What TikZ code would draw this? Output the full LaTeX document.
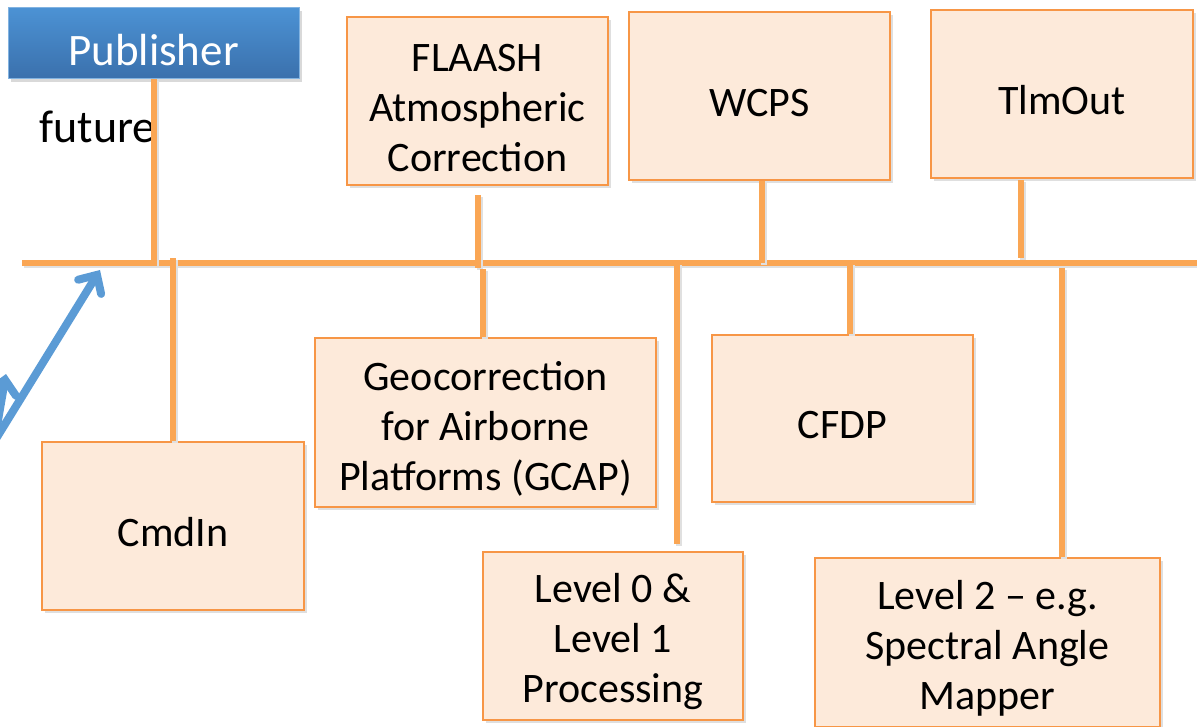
\documentclass[tikz,border=0pt]{standalone}
\usepackage{fontspec}
\setmainfont{Carlito}
\usetikzlibrary{shadows, arrows.meta}

\definecolor{boxfill}{RGB}{253,234,218}
\definecolor{boxline}{RGB}{247,150,70}
\definecolor{busline}{RGB}{250,166,84}
\definecolor{pubtop}{RGB}{76,146,212}
\definecolor{pubbot}{RGB}{58,112,172}
\definecolor{feedblue}{RGB}{91,155,213}

% first line a little taller, so the text sits lower in its box
\newcommand{\lift}{\rule{0pt}{41pt}}

\begin{document}
\begin{tikzpicture}[
        x=1pt, y=-1pt,
        %Styles
        Task/.style={
            draw=boxline, line width=2.5pt,
            fill=boxfill,
            inner sep=0pt,
            align=center,
            font=\fontsize{42}{50}\selectfont,
            drop shadow={opacity=0.25, shadow xshift=3pt, shadow yshift=-3pt},
        },
        Publisher/.style={
            draw=pubtop!70!white, line width=1pt,
            top color=pubtop, bottom color=pubbot,
            text=white, inner sep=0pt,
            font=\fontsize{45}{54}\selectfont,
            drop shadow={opacity=0.3, shadow xshift=3pt, shadow yshift=-3pt},
        },
        link/.style={
            draw=busline, line width=6pt,
            preaction={draw=black!12, line width=6pt,
                transform canvas={xshift=2pt, yshift=-2pt}},
        },
        feed/.style={
            draw=feedblue, line width=8pt, line cap=round,
            -{Straight Barb[length=14pt, width=27pt, line cap=round]},
        },
    ]

\clip (0,0) rectangle (1197,727);

%bus
\coordinate (busL) at (22,263);
\coordinate (busR) at (1200,263);
\coordinate (bus) at (0,263);

%top row
\node[Publisher, minimum width=291pt, minimum height=71pt] (pub) at (153.5,43.5) {\rule{0pt}{44pt}Publisher};
\node[anchor=base west, font=\fontsize{46}{54}\selectfont] (fut) at (36,143) {future};
\node[Task, minimum width=261pt, minimum height=168pt] (flaash) at (477.5,101)
    {\lift FLAASH\\Atmospheric\\Correction};
\node[Task, minimum width=261pt, minimum height=168pt] (wcps) at (759.5,96) {\lift WCPS};
\node[Task, minimum width=262pt, minimum height=168pt] (tlm) at (1062,94) {\lift TlmOut};

%bottom row
\node[Task, minimum width=262pt, minimum height=168pt] (cmdin) at (173,526) {\lift CmdIn};
\node[Task, minimum width=341pt, minimum height=169pt] (gcap) at (485.5,422.5)
    {\lift Geocorrection\\for Airborne\\Platforms (GCAP)};
\node[Task, minimum width=261pt, minimum height=167pt] (cfdp) at (842.5,418.5) {\lift CFDP};
\node[Task, minimum width=260pt, minimum height=168pt] (lvl0) at (613,636)
    {\lift Level 0 \&\\Level 1\\Processing};
\node[Task, minimum width=345pt, minimum height=169pt] (lvl2) at (987.5,642.5)
    {\lift Level 2 -- e.g.\\Spectral Angle\\Mapper};

%connectors
\draw[link] (busL) -- (busR);
\draw[link] (pub.south) -- ([yshift=-3pt]pub.south |- bus);
\draw[link] (cmdin.north) -- ([yshift=5pt]cmdin.north |- bus);
\draw[link] ([yshift=-9pt]flaash.south) -- ([yshift=-5pt]flaash.south |- bus);
\draw[link] ([xshift=-2.5pt]gcap.north) -- ([xshift=-2.5pt,yshift=-6pt]gcap.north |- bus);
\draw[link] ([xshift=64pt,yshift=7pt]lvl0.north) -- ([xshift=64pt]lvl0.north |- bus);
\draw[link] ([xshift=2.5pt]wcps.south) -- ([xshift=2.5pt]wcps.south |- bus);
\draw[link] ([xshift=7.5pt]cfdp.north) -- ([xshift=7.5pt]cfdp.north |- bus);
\draw[link] ([xshift=-41pt,yshift=-1pt]tlm.south) -- ([xshift=-41pt,yshift=5pt]tlm.south |- bus);
\draw[link] ([xshift=74.5pt]lvl2.north) -- ([xshift=74.5pt,yshift=-5pt]lvl2.north |- bus);

%incoming arrows
\coordinate (feedA) at (-6,442);
\coordinate (tipA) at (100,270);
\coordinate (feedB) at (-14,490);
\coordinate (tipB) at (6,374);
\draw[feed] (feedA) -- (tipA);
\draw[feed] (feedB) -- (tipB);

\end{tikzpicture}
\end{document}
